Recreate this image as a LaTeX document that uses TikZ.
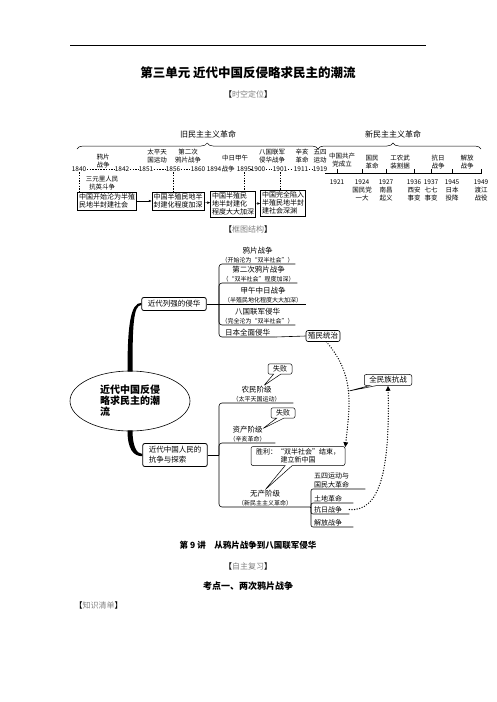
\documentclass[tikz,border=0pt]{standalone}
\usepackage{fontspec}
\setmainfont{Noto Sans CJK SC}
\usetikzlibrary{positioning, arrows.meta, shapes.geometric, shapes.callouts, decorations.pathreplacing, calc}
\newcommand{\smtxt}{\fontsize{6}{8}\selectfont}

\begin{document}
\begin{tikzpicture}[x=1pt, y=-1pt,
    >={Latex[length=3pt, width=2.5pt]},
    yr/.style={font=\fontsize{6.5}{7}\selectfont, inner sep=0.5pt},
    ev/.style={font=\fontsize{6.5}{8}\selectfont, align=center, inner sep=0pt},
    era/.style={font=\fontsize{8}{9}\selectfont, inner sep=0pt},
    erabrace/.style={decorate, decoration={brace, amplitude=6pt, aspect=#1}, line width=0.5pt},
    tbox/.style={draw, line width=0.4pt, font=\fontsize{7}{8}\selectfont, align=left, inner sep=1.5pt},
    vdash/.style={line width=0.4pt, dash pattern=on 1.5pt off 1.2pt},
    mbox/.style={draw, rounded corners=2pt, line width=0.8pt, font=\fontsize{7.5}{10}\selectfont, align=left, inner xsep=6pt, inner ysep=3pt},
    mitem/.style={anchor=south west, align=center, inner sep=0.5pt, font=\fontsize{7.5}{9}\selectfont, minimum width=#1},
    sitem/.style={anchor=south west, align=left, inner sep=1pt, font=\fontsize{7}{8.5}\selectfont, text width=#1},
    callbox/.style={rectangle callout, draw, fill=white, rounded corners=2pt, line width=0.5pt, font=\fontsize{7}{8.5}\selectfont, align=center, inner xsep=5pt, inner ysep=2pt},
    tree/.style={line width=0.6pt},
    dotline/.style={line width=1.4pt, dash pattern=on 0pt off 2.6pt, line cap=round},
    head/.style={font=\bfseries\fontsize{9}{10}\selectfont},
    bkt/.style={font=\fontsize{8}{9}\selectfont}
]
\useasboundingbox (0,0) rectangle (496,702);

% Page header
\draw[line width=0.8pt] (70,45) -- (426,45);
\node[font=\bfseries\fontsize{12.5}{14}\selectfont] (title) at (248,73) {第三单元\ 近代中国反侵略求民主的潮流};
\node[bkt] (sk) at (248,94) {【\textcolor{gray}{时空定位}】};

% Eras
\node[era] (jiu) at (208,134) {旧民主主义革命};
\node[era] (xin) at (393,134) {新民主主义革命};
\draw[erabrace=0.54] (77,149) -- (318,149);
\draw[erabrace=0.46] (318,149) -- (481,149);

% Years, old period
\node[yr] (y1840) at (79,169) {1840};
\node[yr] (y1842) at (122,169) {1842};
\node[yr] (y1851) at (146,169) {1851};
\node[yr] (y1856) at (173,169) {1856};
\node[yr] (y1860) at (198,169) {1860};
\node[yr] (y1894) at (214,169) {1894};
\node[yr] (zz) at (228,169) {战争};
\node[yr] (y1895) at (244,169) {1895};
\node[yr] (y1900) at (258,169) {1900};
\node[yr] (y1901) at (280,169) {1901};
\node[yr] (y1911) at (301,169) {1911};
\node[yr] (y1919) at (320,169) {1919};
\foreach \a/\b in {y1840/y1842, y1842/y1851, y1851/y1856, y1856/y1860, y1895/y1900, y1900/y1901, y1901/y1911, y1911/y1919}
    \draw[vdash] (\a) -- (\b);

% Events, old period
\node[ev] (yp1) at (103,161) {鸦片\\战争};
\node[ev] (tp) at (157,156) {太平天\\国运动};
\node[ev] (dec1) at (188,156) {第二次\\鸦片战争};
\node[ev] (jw1) at (235,158) {中日甲午};
\node[ev] (bg1) at (272,156) {八国联军\\侵华战争};
\node[ev] (xh) at (302,156) {辛亥\\革命};
\node[ev] (ws1) at (320,156) {五四\\运动};
\node[ev] (syl) at (102,183) {三元里人民\\抗英斗争};

% Results, old period
\node[tbox] (tb1) at (107,201) {中国开始沦为半殖\\民地半封建社会};
\node[tbox] (tb2) at (178,201) {中国半殖民地半\\封建化程度加深};
\node[tbox] (tb3) at (233,204) {中国半殖民\\地半封建化\\程度大大加深};
\node[tbox] (tb4) at (283,203) {中国完全陷入\\半殖民地半封\\建社会深渊};
\draw[vdash] (y1840.south) -- (y1840.south |- tb1.north);
\draw[vdash] (y1856.south) -- (y1856.south |- tb2.north);
\draw[vdash] (y1895.south) -- (y1895.south |- tb3.north);
\draw[vdash] (y1901.south) -- (y1901.south |- tb4.north);
\draw[->, line width=0.4pt] (tb1) -- (tb2);
\draw[->, line width=0.4pt] (tb2) -- (tb3);
\draw[->, line width=0.4pt] (tb3) -- (tb4);

% New period axis
\coordinate (ax0) at (325,173);
\coordinate (ax1) at (482,173);
\draw[line width=0.5pt] (ax0) -- (ax1);
\foreach \yy/\xx in {1921/337, 1924/362, 1927/386, 1936/414, 1937/431, 1945/452, 1949/481} {
    \node[yr] (r\yy) at (\xx,182) {\yy};
    \draw[line width=0.5pt] (r\yy.north |- ax0) -- ++(0,-4);
}
\node[ev] (zgcl) at (342,160) {中国共产\\党成立};
\node[ev] (gmgm) at (372,162) {国民\\革命};
\node[ev] (gnwz) at (400,162) {工农武\\装割据};
\node[ev] (krzz) at (438,162) {抗日\\战争};
\node[ev] (jfzz) at (467,162) {解放\\战争};
\node[ev] (gmd) at (362,194) {国民党\\一大};
\node[ev] (nc) at (386,194) {南昌\\起义};
\node[ev] (xa) at (414,194) {西安\\事变};
\node[ev] (qq) at (431,194) {七七\\事变};
\node[ev] (rbtx) at (452,194) {日本\\投降};
\node[ev] (djzy) at (481,194) {渡江\\战役};

\node[bkt] (kt) at (248,229) {【\textcolor{gray}{框图结构}】};

% Mind map
\node[ellipse, draw, line width=0.6pt, minimum width=120, minimum height=60, align=left,
      font=\bfseries\fontsize{10}{11}\selectfont] (root) at (130,401) {近代中国反侵\\略求民主的潮\\流};
\node[mbox] (lqh) at (174,304) {近代列强的侵华};
\node[mbox] (kz) at (175,455) {近代中国人民的\\抗争与探索};
\fill ($(root.north)+(-2.5,1)$) .. controls ($(root.north)+(-2.5,-45)$) and ($(lqh.west)+(-11,-1.2)$) .. ($(lqh.west)+(0,-1.2)$)
    -- ($(lqh.west)+(0,1)$) .. controls ($(lqh.west)+(-8,1)$) and ($(root.north)+(2.5,-45)$) .. ($(root.north)+(2.5,1)$) -- cycle;
\fill ($(root.south)+(-2.5,-1)$) .. controls ($(root.south)+(-2.5,18)$) and ($(kz.west)+(-9,1.2)$) .. ($(kz.west)+(0,1.2)$)
    -- ($(kz.west)+(0,-1)$) .. controls ($(kz.west)+(-6,-1)$) and ($(root.south)+(2.5,14)$) .. ($(root.south)+(2.5,-1)$) -- cycle;

% Invasions
\node[mitem=75] (yp) at (220,264) {鸦片战争\\{\smtxt（开始沦为“双半社会”）}};
\node[mitem=77] (dec) at (220,283) {第二次鸦片战争\\{\smtxt（“双半社会”程度加深）}};
\node[mitem=86] (jw) at (220,304) {甲午中日战争\\{\smtxt（半殖民地化程度大大加深）}};
\node[mitem=75] (bg) at (220,325) {八国联军侵华\\{\smtxt（完全沦为“双半社会”）}};
\node[mitem=55] (rb) at (220,337) {日本全面侵华};
\node[draw, rounded corners=2pt, line width=0.6pt, font=\fontsize{7.5}{9}\selectfont, inner sep=2pt] (zmtz) at (323,336) {殖民统治};
\coordinate (j1) at (219,304);
\draw[tree] (lqh.east) -- (j1);
\foreach \n in {yp, dec, bg, rb}
    \draw[tree, rounded corners=3pt] (j1) |- (\n.south east);
\draw[tree] (j1) -- (jw.south east);
\draw[tree] (rb.south east) -- (zmtz.west);

% Struggles
\node[mitem=73] (nm) at (220,403) {农民阶级\\{\smtxt（太平天国运动）}};
\node[mitem=55] (zc) at (220,443) {资产阶级\\{\smtxt（辛亥革命）}};
\node[mitem=90] (wc) at (220,507) {无产阶级\\{\smtxt（新民主主义革命）}};
\node[sitem=50] (ws) at (313,489) {五四运动与\\国民大革命};
\node[sitem=38] (td) at (313,503) {土地革命};
\node[sitem=34] (kr) at (313,514) {抗日战争};
\node[sitem=38] (jf) at (313,527) {解放战争};
\coordinate (j2) at (219,455);
\coordinate (j3) at (311,507);
\draw[tree] (kz.east) -- (j2);
\foreach \n in {nm, zc, wc}
    \draw[tree, rounded corners=3pt] (j2) |- (\n.south east);
\draw[tree] (wc.south east) -- (j3);
\foreach \n in {ws, td, kr, jf}
    \draw[tree, rounded corners=2pt] (j3) |- (\n.south east);

% Callouts
\node[callbox, callout absolute pointer={($(nm.north)+(7,0)$)}] (sb1) at (280,369) {失败};
\node[callbox, callout absolute pointer={($(zc.north)+(15,3)$)}] (sb2) at (283,413) {失败};
\node[callbox, callout absolute pointer={(wc.north)}] (sl) at (298,456) {胜利：“双半社会”结束，\\建立新中国};

% Dotted links
\draw[dotline, -{Triangle[length=5pt, width=4.5pt]}] (zmtz.-60) .. controls (355,375) and (350,405) .. coordinate[pos=0.5] (m1) (sl.70);
\node[callbox, font=\fontsize{7.5}{9}\selectfont, callout absolute pointer={(m1)}] (qmz) at (388,380) {全民族抗战};
\draw[dotline, -{Triangle[length=5pt, width=4.5pt]}] (kr.east) .. controls (380,512) and (390,470) .. (qmz.south);

% Lesson heading
\node[head, font=\bfseries\fontsize{8.5}{10}\selectfont] (lec) at (248,545) {第 9 讲\quad 从鸦片战争到八国联军侵华};
\node[bkt] (zzfx) at (248,566) {【\textcolor{gray}{自主复习}】};
\node[head] (kd) at (248,586) {考点一、两次鸦片战争};
\node[bkt, anchor=west] (zsqd) at (71,605) {【\textcolor{gray}{知识清单}】};
\end{tikzpicture}
\end{document}
